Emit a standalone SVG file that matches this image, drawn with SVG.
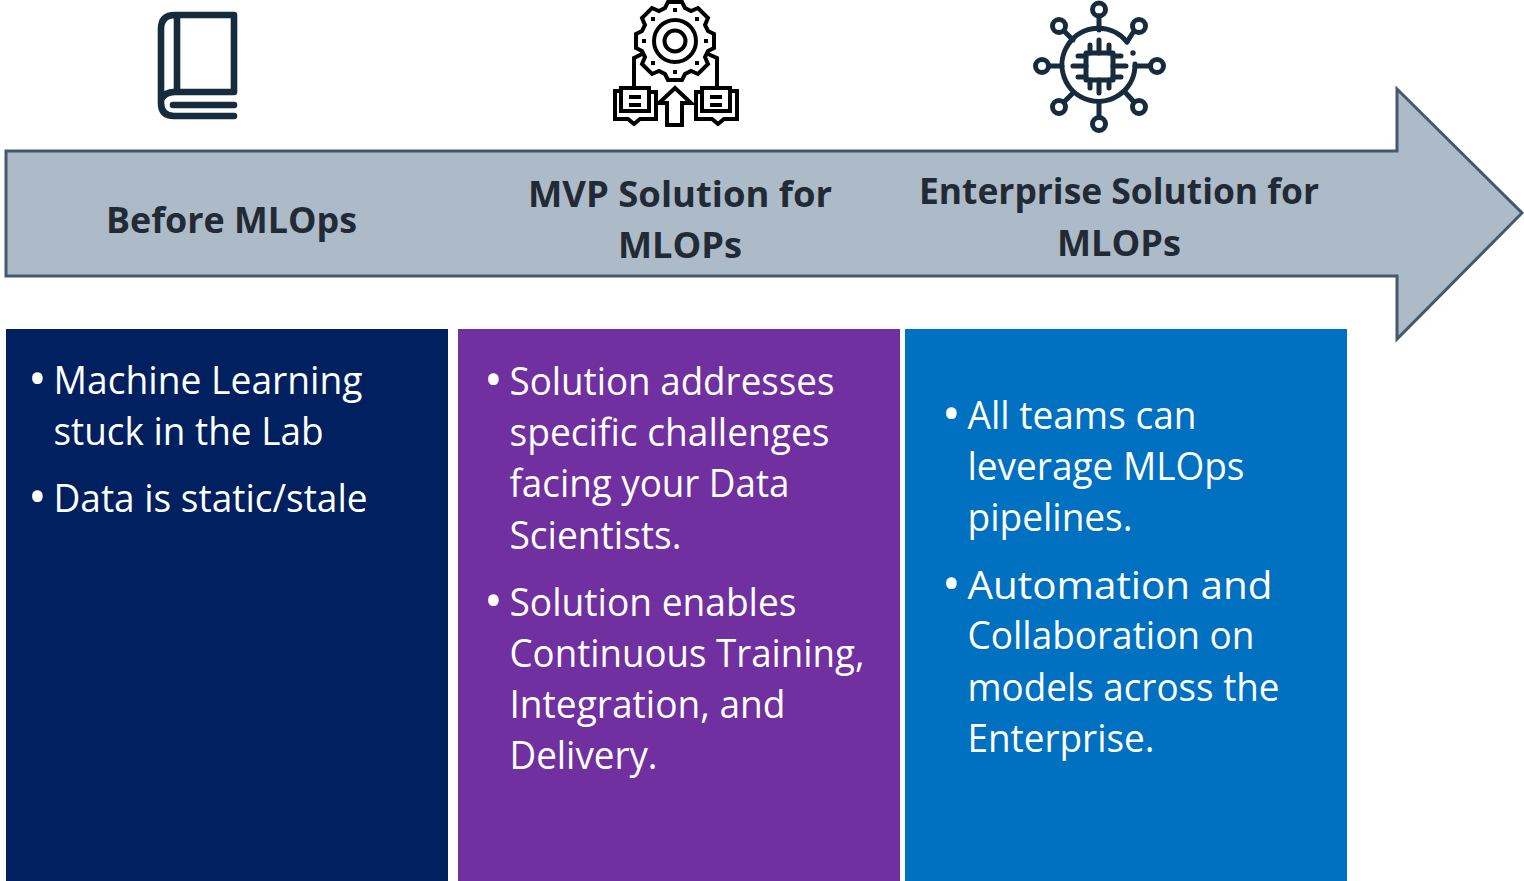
<svg xmlns="http://www.w3.org/2000/svg" width="1524" height="881" viewBox="0 0 1524 881">
<style>
text{font-family:"Open Sans","Noto Sans","Liberation Sans",sans-serif}
.h{font-size:36px;font-weight:700;fill:#222a35}
.b{font-size:38px;fill:#fff}
.p{font-size:50px;fill:#fff}
.d{fill:none;stroke:#162b3c;stroke-width:6.6;stroke-linecap:round;stroke-linejoin:round}
.k{fill:none;stroke:#000;stroke-width:4;stroke-linejoin:miter}
.n{fill:none;stroke:#162b3c;stroke-width:5;stroke-linecap:round;stroke-linejoin:round}
</style>
<rect width="1524" height="881" fill="#fff"/>
<g id="arrow"><polygon points="6,151 1397,151 1397,89 1522,213 1397,339 1397,276 6,276" fill="#adbbc9" stroke="#44596e" stroke-width="3"/></g>
<g id="icon-book">
<path class="d" d="M234,15H175Q161,15 161,29V103Q161,116 174,116H234M177,15V91M234,15V92H177Q165,91 161,100M173,105H234"/>
</g>
<g id="icon-gear">
<path class="k" d="M668,2H682L685,8L691,11L698,8L708,18L705,25L708,31L714,34V48L708,51L705,57L708,64L698,74L691,71L685,74L682,80H668L665,74L659,71L652,74L642,64L645,57L642,51L636,48V34L642,31L645,25L642,18L652,8L659,11L665,8Z"/>
<circle class="k" cx="675" cy="41" r="21"/>
<circle class="k" cx="675" cy="41" r="10.5"/>
<g fill="#000"><rect x="673" y="8" width="4" height="4"/><rect x="673" y="70" width="4" height="4"/><rect x="642" y="39" width="4" height="4"/><rect x="704" y="39" width="4" height="4"/><rect x="651" y="17" width="4" height="4"/><rect x="695" y="17" width="4" height="4"/><rect x="651" y="61" width="4" height="4"/><rect x="695" y="61" width="4" height="4"/></g>
<path class="k" d="M642,54L634,58V87M708,54L717,58V87"/>
<path class="k" d="M621,88H649V111H621ZM629,97H641M629,105H641M621,91H615V119H628L634,124L640,119H656V92H649"/>
<path class="k" d="M702,88H730V111H702ZM710,97H722M710,105H722M702,92H696V119H712L718,124L724,119H737V91H730"/>
<path class="k" d="M675,88L691,103H682V125H667V103H659Z"/>
</g>
<g id="icon-network">
<path class="n" d="M1127,42A36.500,36.500 0 1 0 1135,64"/>
<circle cx="1133" cy="53" r="2.700" fill="#162b3c"/>
<rect class="n" x="1086" y="53" width="27" height="27"/>
<path class="n" d="M1090,53V45M1099,53V40M1109,53V45M1090,80V88M1099,80V93M1109,80V88M1086,56H1078M1086,77H1078M1086,66H1073M1113,56H1121M1113,77H1121M1113,66H1126"/>
<circle class="n" cx="1099" cy="9.500" r="6.500"/>
<circle class="n" cx="1099" cy="124" r="6.500"/>
<circle class="n" cx="1042" cy="66" r="6.500"/>
<circle class="n" cx="1157" cy="66" r="6.500"/>
<circle class="n" cx="1059" cy="26" r="6.500"/>
<circle class="n" cx="1139" cy="26" r="6.500"/>
<circle class="n" cx="1059" cy="107" r="6.500"/>
<circle class="n" cx="1139" cy="107" r="6.500"/>
<path class="n" d="M1099,16V30M1099,104V117M1049,66H1062M1135,66H1150M1064,31L1073,40M1134,31L1127,42M1064,102L1073,93M1134,102L1125,92"/>
</g>
<g id="header-before"><text class="h" x="106" y="233" textLength="251" lengthAdjust="spacingAndGlyphs">Before MLOps</text></g>
<g id="header-mvp"><text class="h" x="528" y="207" textLength="304" lengthAdjust="spacingAndGlyphs">MVP Solution for</text><text class="h" x="618" y="258" textLength="124" lengthAdjust="spacingAndGlyphs">MLOPs</text></g>
<g id="header-enterprise"><text class="h" x="919" y="204" textLength="400" lengthAdjust="spacingAndGlyphs">Enterprise Solution for</text><text class="h" x="1057" y="256" textLength="124" lengthAdjust="spacingAndGlyphs">MLOPs</text></g>
<g id="box-before"><rect x="6" y="329" width="442" height="552" fill="#002060"/>
<text class="p" x="28" y="396">•</text><text class="b" x="53.500" y="393.500" textLength="309" lengthAdjust="spacingAndGlyphs">Machine Learning</text>
<text class="b" x="53.500" y="444.500" textLength="270" lengthAdjust="spacingAndGlyphs">stuck in the Lab</text>
<text class="p" x="28" y="514">•</text><text class="b" x="53.500" y="511.500" textLength="314" lengthAdjust="spacingAndGlyphs">Data is static/stale</text></g>
<g id="box-mvp"><rect x="458" y="329" width="442" height="552" fill="#7030a0"/>
<text class="p" x="484" y="397">•</text><text class="b" x="509.500" y="394.500" textLength="325" lengthAdjust="spacingAndGlyphs">Solution addresses</text>
<text class="b" x="509.500" y="445.500" textLength="320" lengthAdjust="spacingAndGlyphs">specific challenges</text>
<text class="b" x="509.500" y="496.500" textLength="280" lengthAdjust="spacingAndGlyphs">facing your Data</text>
<text class="b" x="509.500" y="548.500" textLength="172" lengthAdjust="spacingAndGlyphs">Scientists.</text>
<text class="p" x="484" y="618">•</text><text class="b" x="509.500" y="615.500" textLength="287" lengthAdjust="spacingAndGlyphs">Solution enables</text>
<text class="b" x="509.500" y="666.500" textLength="355" lengthAdjust="spacingAndGlyphs">Continuous Training,</text>
<text class="b" x="509.500" y="717.500" textLength="276" lengthAdjust="spacingAndGlyphs">Integration, and</text>
<text class="b" x="509.500" y="768.500" textLength="148" lengthAdjust="spacingAndGlyphs">Delivery.</text></g>
<g id="box-enterprise"><rect x="905" y="329" width="442" height="552" fill="#0070c0"/>
<text class="p" x="942" y="431">•</text><text class="b" x="967.500" y="428.500" textLength="229" lengthAdjust="spacingAndGlyphs">All teams can</text>
<text class="b" x="967.500" y="479.500" textLength="277" lengthAdjust="spacingAndGlyphs">leverage MLOps</text>
<text class="b" x="967.500" y="530.500" textLength="165" lengthAdjust="spacingAndGlyphs">pipelines.</text>
<text class="p" x="942" y="601">•</text><text class="b" x="967.500" y="598.500" textLength="305" lengthAdjust="spacingAndGlyphs">Automation and</text>
<text class="b" x="967.500" y="648.500" textLength="287" lengthAdjust="spacingAndGlyphs">Collaboration on</text>
<text class="b" x="967.500" y="700.500" textLength="312" lengthAdjust="spacingAndGlyphs">models across the</text>
<text class="b" x="967.500" y="751.500" textLength="187" lengthAdjust="spacingAndGlyphs">Enterprise.</text></g>
</svg>
